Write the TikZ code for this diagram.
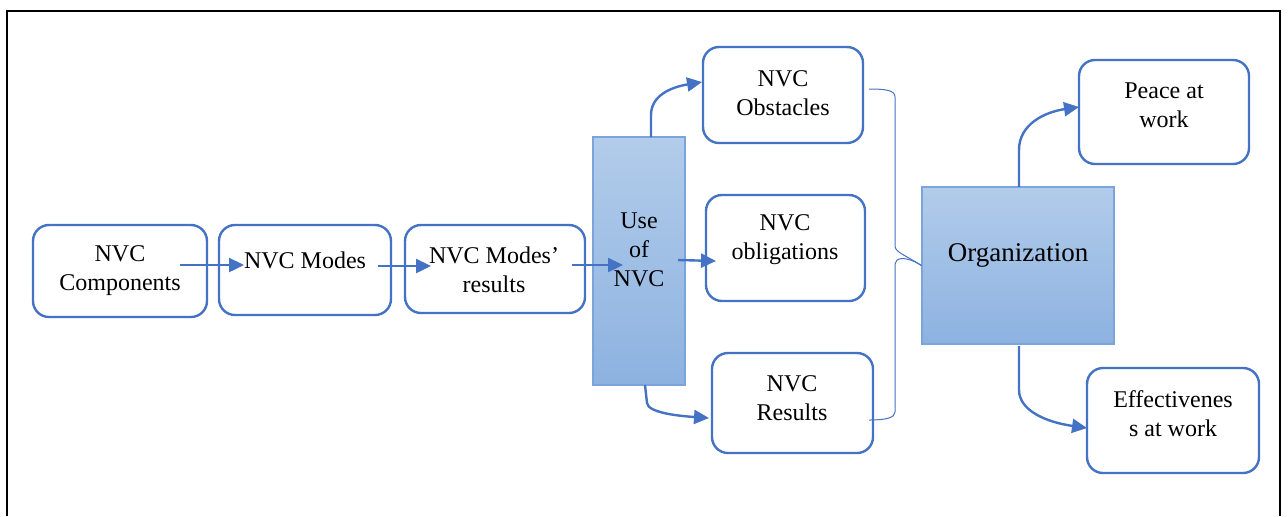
\documentclass[tikz,border=0pt]{standalone}
\usepackage{fontspec}
\setmainfont{Liberation Serif}
\usetikzlibrary{arrows.meta}
\definecolor{accent}{HTML}{4472C4}
\definecolor{shadetop}{HTML}{B2CCEA}
\definecolor{shadebot}{HTML}{8DB2E0}
\definecolor{shadeline}{HTML}{7BA5DA}
\tikzset{
  box/.style={draw=accent, line width=1.2pt, rounded corners=8pt, fill=white},
  bar/.style={draw=shadeline, line width=0.6pt, top color=shadetop, bottom color=shadebot},
  txt/.style={align=center, font=\fontsize{12}{14.5}\selectfont, inner sep=0pt},
  arr/.style={draw=accent, line width=1.2pt, -{Triangle[length=7.5pt,width=7pt]}},
  brace/.style={draw=accent, line width=0.5pt},
}
\begin{document}
\begin{tikzpicture}[x=0.5pt,y=-0.5pt]
\useasboundingbox (0,0) rectangle (1288,516);
% outer frame, open at the bottom
\draw[line width=1pt] (7,516) -- (7,11) -- (1280,11) -- (1280,516);

% boxes
\node[box, minimum width=87pt, minimum height=46pt] (comp) at (120,271) {};
\node[box, minimum width=86pt, minimum height=45pt] (modes) at (305,270) {};
\node[box, minimum width=90pt, minimum height=44pt] (mres) at (495,269) {};
\node[bar, minimum width=46pt, minimum height=124pt] (use) at (639,261) {};
\node[box, minimum width=80pt, minimum height=48pt] (obst) at (783,95) {};
\node[box, minimum width=79.5pt, minimum height=53pt] (oblig) at (785.5,248) {};
\node[box, minimum width=80.5pt, minimum height=50pt] (nres) at (792.5,403) {};
\node[bar, minimum width=96pt, minimum height=78.5pt] (org) at (1018,265.5) {};
\node[box, minimum width=85pt, minimum height=52pt] (peace) at (1164,112) {};
\node[box, minimum width=86pt, minimum height=52.5pt] (eff) at (1173,420.5) {};

% labels
\node[txt] (compT) at (120,271) {NVC\\Components};
\node[txt] (modesT) at (305,260) {NVC Modes};
\node[txt] (mresT) at (494,270) {NVC Modes’\\results};
\node[txt] (useT) at (639,250) {Use\\of\\NVC};
\node[txt] (obstT) at (783,93) {NVC\\Obstacles};
\node[txt] (obligT) at (785,240) {NVC\\obligations};
\node[txt] (nresT) at (792,398) {NVC\\Results};
\node[txt, font=\fontsize{13.5}{16}\selectfont] (orgT) at (1018,255) {Organization};
\node[txt] (peaceT) at (1164,105) {Peace at\\work};
\node[txt] (effT) at (1173,414) {Effectivenes\\s at work};

% straight connectors
\coordinate (a1) at (180,265); \coordinate (a2) at (244,265);
\coordinate (b1) at (378,266); \coordinate (b2) at (431,266);
\coordinate (c1) at (572,265); \coordinate (c2) at (623,265);
\coordinate (d1) at (678,260); \coordinate (d2) at (716,261);
\draw[arr] (a1) -- (a2);
\draw[arr] (b1) -- (b2);
\draw[arr] (c1) -- (c2);
\draw[arr] (d1) -- (d2);

% curved connectors
\coordinate (e1) at (651,137); \coordinate (e2) at (702,82);
\draw[arr] (e1) -- (651,115) .. controls (651,95) and (672,87) .. (e2);
\coordinate (f1) at (645,385); \coordinate (f2) at (709,418);
\draw[arr] (f1) -- (647,403) .. controls (648,413) and (680,416) .. (f2);
\coordinate (g1) at (1019,187); \coordinate (g2) at (1079,107);
\draw[arr] (g1) -- (1019,150) .. controls (1019,124) and (1045,112) .. (g2);
\coordinate (h1) at (1019,346); \coordinate (h2) at (1087,428);
\draw[arr] (h1) -- (1019,390) .. controls (1019,410) and (1045,422) .. (h2);

% brace gathering the three outcomes into the organization
\coordinate (br1) at (869,89);
\coordinate (br2) at (869,420);
\coordinate (brtip) at (org.west);
\draw[brace] (br1) .. controls (885,89) and (895,90) .. (895,97) -- (895,246)
  .. controls (895,252) and (905,255) .. (brtip);
\draw[brace] (brtip) .. controls (905,255) and (895,258) .. (895,264) -- (895,412)
  .. controls (895,418) and (885,420) .. (br2);
\end{tikzpicture}
\end{document}
